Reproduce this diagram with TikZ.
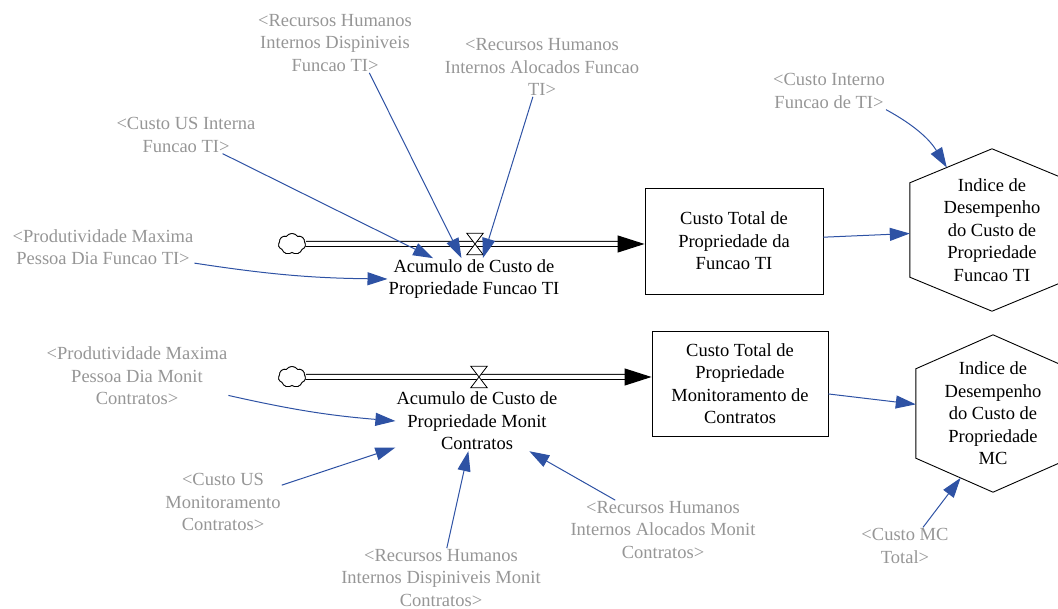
\documentclass[tikz,border=0pt]{standalone}
\usepackage{fontspec}
\setmainfont{Liberation Serif}
\usetikzlibrary{shapes,arrows,arrows.meta,calc}
\definecolor{linkblue}{RGB}{46,82,164}
\definecolor{labelgray}{RGB}{150,150,150}

\begin{document}
\begin{tikzpicture}[x=1pt,y=-1pt,>={Triangle[length=20pt,width=13pt]},font=\fontsize{18.5}{22.5}\selectfont]
\tikzstyle{shadowvar}=[text=labelgray, align=center, inner sep=1pt]
\tikzstyle{aux}=[align=center, inner sep=1pt]
\tikzstyle{stock}=[draw=black, line width=0.9pt, rectangle, align=center]
\tikzstyle{hexa}=[align=center, inner sep=0pt]
\tikzstyle{valve}=[inner sep=0pt, minimum width=16pt, minimum height=21pt]
\tikzstyle{source}=[cloud, cloud puffs=7, cloud puff arc=110, draw, line width=0.8pt, fill=white, inner sep=0pt, minimum width=27pt, minimum height=21pt]
\tikzstyle{pipe}=[draw=black, double=white, double distance=4pt, line width=1pt, -{Triangle[length=27pt,width=17pt]}]
\tikzstyle{link}=[->, color=linkblue, line width=1pt]
\useasboundingbox (0,0) rectangle (1058,609);

\node[stock, minimum width=178pt, minimum height=106pt] (totalTI) at (734,241) {Custo Total de\\Propriedade da\\Funcao TI};
\node[stock, minimum width=176pt, minimum height=105pt] (totalMC) at (740,383.5) {Custo Total de\\Propriedade\\Monitoramento de\\Contratos};
\node[source] (srcTI) at (292,244) {};
\node[source] (srcMC) at (292,377) {};
\node[valve] (vTI) at (475,244) {};
\node[valve] (vMC) at (479,377) {};
\node[aux] (rateTI) at (474,279) {Acumulo de Custo de\\Propriedade Funcao TI};
\node[aux] (rateMC) at (477,421) {Acumulo de Custo de\\Propriedade Monit\\Contratos};
\node[hexa, minimum width=164pt, minimum height=162pt] (hexTI) at (992,230) {Indice de\\Desempenho\\do Custo de\\Propriedade\\Funcao TI};
\node[hexa, minimum width=154pt, minimum height=157pt] (hexMC) at (993,413.5) {Indice de\\Desempenho\\do Custo de\\Propriedade\\MC};
\coordinate (hexTIin) at ($(hexTI.north)!0.55!([yshift=-34pt]hexTI.north west)$);
\coordinate (hexMCin) at ($(hexMC.south)!0.42!([yshift=34pt]hexMC.south west)$);

\node[shadowvar] (rhdTI) at (335,43) {<Recursos Humanos\\Internos Dispiniveis\\Funcao TI>};
\node[shadowvar] (rhaTI) at (542,67) {<Recursos Humanos\\Internos Alocados Funcao\\TI>};
\node[shadowvar] (cusTI) at (186,135) {<Custo US Interna\\Funcao TI>};
\node[shadowvar] (prodTI) at (103,247) {<Produtividade Maxima\\Pessoa Dia Funcao TI>};
\node[shadowvar] (cintTI) at (829,91) {<Custo Interno\\Funcao de TI>};
\node[shadowvar] (prodMC) at (137,376) {<Produtividade Maxima\\Pessoa Dia Monit\\Contratos>};
\node[shadowvar] (cusMC) at (223,502) {<Custo US\\Monitoramento\\Contratos>};
\node[shadowvar] (rhdMC) at (441,578) {<Recursos Humanos\\Internos Dispiniveis Monit\\Contratos>};
\node[shadowvar] (rhaMC) at (663,530) {<Recursos Humanos\\Internos Alocados Monit\\Contratos>};
\node[shadowvar] (cmc) at (905,546) {<Custo MC\\Total>};

\draw[line width=0.9pt] (hexTI.north) -- ([yshift=-34pt]hexTI.north east) -- ([yshift=34pt]hexTI.south east) -- (hexTI.south)
  -- ([yshift=34pt]hexTI.south west) -- ([yshift=-34pt]hexTI.north west) -- cycle;
\draw[line width=0.9pt] (hexMC.north) -- ([yshift=-34pt]hexMC.north east) -- ([yshift=34pt]hexMC.south east) -- (hexMC.south)
  -- ([yshift=34pt]hexMC.south west) -- ([yshift=-34pt]hexMC.north west) -- cycle;

\draw[pipe] (srcTI) -- (srcTI -| totalTI.west);
\draw[pipe] (srcMC) -- (srcMC -| totalMC.west);
\node[source] at (srcTI) {};
\node[source] at (srcMC) {};
\draw[fill=white, line width=0.8pt] (vTI.north west) -- (vTI.north east) -- (vTI.south west) -- (vTI.south east) -- cycle;
\draw[fill=white, line width=0.8pt] (vMC.north west) -- (vMC.north east) -- (vMC.south west) -- (vMC.south east) -- cycle;

\path[link] (rhdTI.-41) edge (rateTI.121)
            (rhaTI.-107) edge (rateTI.67)
            (cusTI.-27) edge (rateTI.153)
            (prodTI.-10) edge[bend right=4] (rateTI.west)
            (totalTI) edge (hexTI)
            (cintTI.south east) edge[bend left=15] (hexTIin);
\path[link] (prodMC.-12) edge[bend right=4] (rateMC.west)
            (cusMC.16) edge (rateMC.198)
            (rhdMC.79) edge (rateMC.-106)
            (rhaMC.148) edge (rateMC.-30)
            (totalMC) edge (hexMC)
            (cmc.46) edge (hexMCin);
\end{tikzpicture}
\end{document}
